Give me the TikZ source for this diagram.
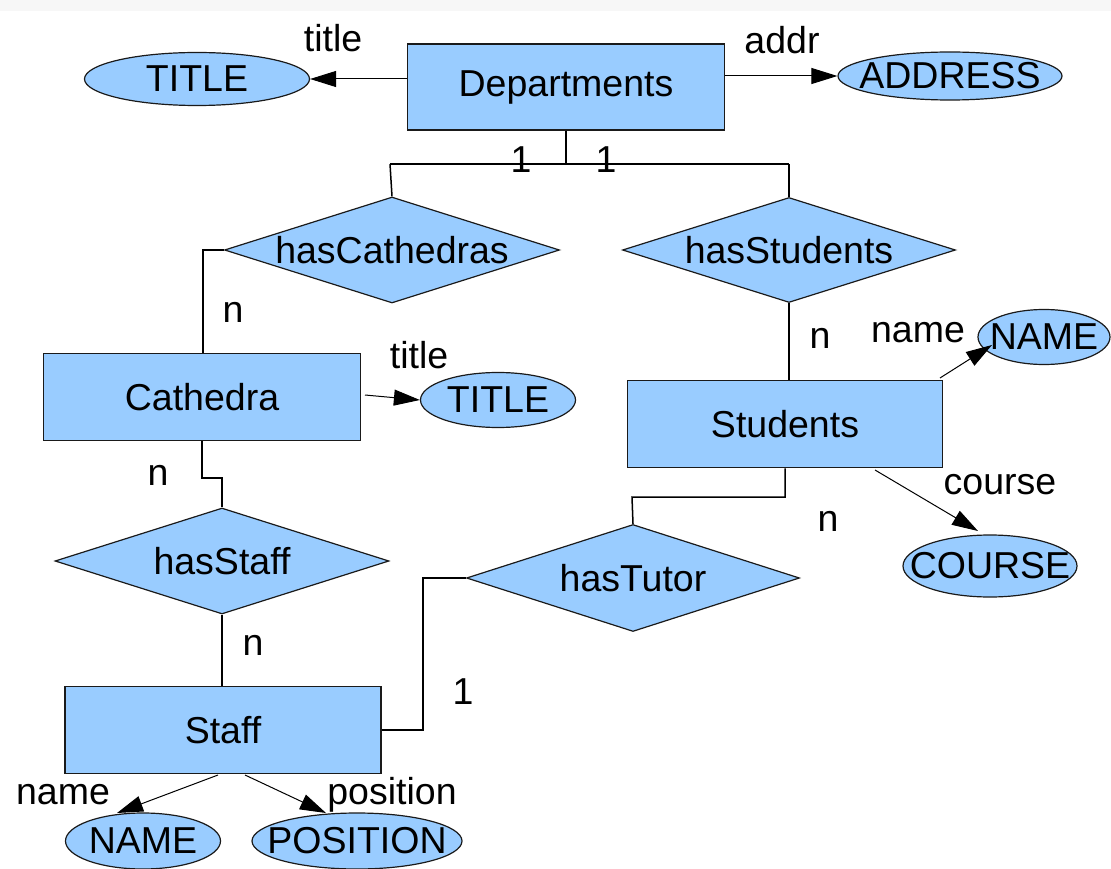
\documentclass[tikz,border=0pt]{standalone}
\usepackage{fontspec}
\setmainfont{Liberation Sans}
\usetikzlibrary{shapes.geometric,arrows.meta}
\definecolor{boxfill}{HTML}{99CCFF}
\definecolor{edge}{HTML}{1A1A1A}
\tikzset{
  every node/.style={font=\fontsize{37.5}{44}\selectfont, inner sep=0pt},
  entity/.style={draw=edge, fill=boxfill, line width=1.5pt, rectangle},
  attr/.style={draw=edge, fill=boxfill, line width=1.2pt, ellipse},
  rel/.style={draw=edge, fill=boxfill, line width=1.2pt, diamond},
  conn/.style={draw=black, line width=1.5pt},
  attrarrow/.style={draw=black, line width=1pt, -{Triangle[length=26pt,width=16pt]}},
  lbl/.style={text=black}
}
\begin{document}
\begin{tikzpicture}[x=1pt,y=-1pt]
\useasboundingbox (0,0) rectangle (1111,869);
\fill[gray!6] (0,0) rectangle (1111,11);

% entities
\node[entity, minimum width=317, minimum height=86] (dep) at (566,87) {\raisebox{-4pt}{Departments}};
\node[entity, minimum width=317, minimum height=87] (cat) at (202,397) {Cathedra};
\node[entity, minimum width=315, minimum height=87] (stu) at (785,424) {Students};
\node[entity, minimum width=316, minimum height=87] (sta) at (223,730) {Staff};

% relationships
\node[rel, minimum width=335, minimum height=106] (hc) at (392,250) {};
\node (hct) at (hc.center) {hasCathedras};
\node[rel, minimum width=333, minimum height=105] (hs) at (789,250) {};
\node (hst) at (hs.center) {hasStudents};
\node[rel, minimum width=334, minimum height=106] (hf) at (222,561) {};
\node (hft) at (hf.center) {hasStaff};
\node[rel, minimum width=333, minimum height=107] (ht) at (633,578) {};
\node (htt) at (ht.center) {hasTutor};

% attributes
\node[attr, minimum width=225, minimum height=53] (t1) at (197,79) {};
\node (t1t) at (t1.center) {TITLE};
\node[attr, minimum width=224, minimum height=48] (ad) at (950,76) {};
\node (adt) at (ad.center) {ADDRESS};
\node[attr, minimum width=155, minimum height=55] (t2) at (498,400) {};
\node (t2t) at (t2.center) {TITLE};
\node[attr, minimum width=132, minimum height=55] (nm1) at (1044,337) {};
\node (nm1t) at (nm1.center) {NAME};
\node[attr, minimum width=174, minimum height=62] (co) at (990,566) {};
\node (cot) at (co.center) {COURSE};
\node[attr, minimum width=155, minimum height=56] (nm2) at (143,841) {};
\node (nm2t) at (nm2.center) {NAME};
\node[attr, minimum width=210, minimum height=56] (po) at (357,841) {};
\node (pot) at (po.center) {POSITION};

% coordinates for connector bends
\coordinate (dj) at (566,164);
\coordinate (djl) at (390,164);
\coordinate (djr) at (789,164);
\coordinate (hcl) at (203,250);
\coordinate (sj) at (785,497);
\coordinate (sjl) at (632,497);
\coordinate (htl) at (423,578);
\coordinate (htb) at (423,730);
\coordinate (cj) at (202,478);
\coordinate (cjr) at (222,478);

% relationship connectors
\draw[conn] (dep.south) -- (dj);
\draw[conn] (djl) -- (djr);
\draw[conn] (djl) -- (hc.north);
\draw[conn] (djr) -- (hs.north);
\draw[conn] (hc.west) -- (hcl) -- (cat.north -| hcl);
\draw[conn] (hs.south) -- (stu.north -| hs.south);
\draw[conn] (stu.south) -- (sj) -- (sjl) -- (ht.north);
\draw[conn] (ht.west) -- (htl) -- (htb) -- (sta.east);
\draw[conn] (cat.south) -- (cj) -- (cjr) -- (hf.north);
\draw[conn] (hf.south) -- (sta.north -| hf.south);

% attribute arrows
\draw[attrarrow] (dep.west |- t1.east) -- (t1.east);
\draw[attrarrow] (dep.east |- ad.west) -- (ad.west);
\coordinate (catr) at (365,395);
\draw[attrarrow] (catr) -- (t2.west);
\coordinate (stur) at (940,378);
\coordinate (nm1a) at (992,345);
\draw[attrarrow] (stur) -- (nm1a);
\coordinate (stub) at (875,470);
\coordinate (coa) at (978,531);
\draw[attrarrow] (stub) -- (coa);
\coordinate (stab1) at (218,775);
\coordinate (nm2a) at (117,813);
\draw[attrarrow] (stab1) -- (nm2a);
\coordinate (stab2) at (245,775);
\coordinate (poa) at (326,813);
\draw[attrarrow] (stab2) -- (poa);

% labels
\node[lbl] (l1) at (333,38) {title};
\node[lbl] (l2) at (782,40) {addr};
\node[lbl] (l3) at (521,160) {1};
\node[lbl] (l4) at (606,160) {1};
\node[lbl] (l5) at (233,312) {n};
\node[lbl] (l6) at (419,355) {title};
\node[lbl] (l7) at (820,338) {n};
\node[lbl] (l8) at (918,333) {name};
\node[lbl] (l9) at (1000,485) {course};
\node[lbl] (l10) at (828,521) {n};
\node[lbl] (l11) at (158,475) {n};
\node[lbl] (l12) at (253,645) {n};
\node[lbl] (l13) at (463,692) {1};
\node[lbl] (l14) at (63,795) {name};
\node[lbl] (l15) at (392,795) {position};
\end{tikzpicture}
\end{document}
